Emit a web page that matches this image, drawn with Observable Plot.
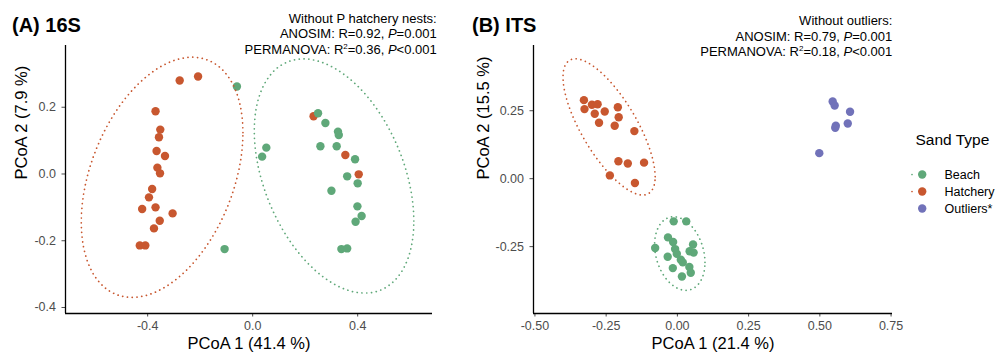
<!DOCTYPE html>
<html><head><meta charset="utf-8">
<script src="https://cdn.jsdelivr.net/npm/d3@7"></script>
<script src="https://cdn.jsdelivr.net/npm/@observablehq/plot@0.6"></script>
<style>
body{margin:0;background:#fff;font-family:"Liberation Sans",Arial,Helvetica,sans-serif;}
#wrap{position:relative;width:995px;height:355px;overflow:hidden;background:#fff;}
#wrap > div{position:absolute;}
.title{font-weight:bold;font-size:20px;line-height:20px;color:#000;white-space:nowrap;}
.note{font-size:13px;line-height:15.5px;text-align:right;color:#000;white-space:nowrap;}
.note sup{font-size:8px;line-height:0;vertical-align:5px;}
</style></head><body><div id="wrap"></div>
<script>
// ---------- data ----------
const sandTypes = ["Beach", "Hatchery", "Outliers*"];
const sandColors = ["#5FA879", "#C8572F", "#7172B9"];

// (A) 16S
const s16BeachX = [-0.060, 0.249, 0.277, 0.325, 0.328, 0.258, 0.320, 0.052, 0.036, 0.390, 0.360, 0.400, 0.300, 0.399, 0.415, 0.392, 0.338, 0.360, -0.107];
const s16BeachY = [0.262, 0.182, 0.153, 0.127, 0.117, 0.083, 0.083, 0.079, 0.052, 0.044, -0.007, -0.028, -0.050, -0.097, -0.126, -0.143, -0.225, -0.223, -0.225];
const s16HatchX = [-0.278, -0.208, -0.370, -0.352, -0.357, -0.366, -0.334, -0.363, -0.353, -0.383, -0.395, -0.421, -0.370, -0.305, -0.354, -0.376, -0.430, -0.409];
const s16HatchY = [0.280, 0.292, 0.188, 0.133, 0.110, 0.069, 0.054, 0.019, 0.002, -0.045, -0.070, -0.105, -0.100, -0.118, -0.140, -0.163, -0.214, -0.214];
// P hatchery nests
const s16HatchPX = [0.232, 0.353, 0.404];
const s16HatchPY = [0.173, 0.057, -0.001];
// 95% ellipses of (A): centre, x / y half-extents, phase cosine
const s16EllType = ["Hatchery", "Beach"];
const s16EllCx = [-0.345, 0.310];
const s16EllCy = [-0.010, -0.006];
const s16EllRx = [0.308, 0.304];
const s16EllRy = [0.360, 0.351];
const s16EllCosPhi = [0.372, -0.385];

// (B) ITS
const itsBeachX = [-0.013, 0.031, -0.033, -0.015, -0.078, -0.008, 0.055, -0.002, 0.043, 0.057, -0.034, 0.012, 0.019, 0.042, -0.016, 0.047, 0.016];
const itsBeachY = [-0.157, -0.157, -0.216, -0.233, -0.255, -0.259, -0.242, -0.276, -0.267, -0.272, -0.287, -0.298, -0.308, -0.325, -0.329, -0.346, -0.360];
const itsHatchX = [-0.328, -0.326, -0.300, -0.280, -0.290, -0.255, -0.275, -0.209, -0.206, -0.220, -0.151, -0.207, -0.174, -0.117, -0.237, -0.149];
const itsHatchY = [0.289, 0.256, 0.272, 0.274, 0.239, 0.247, 0.206, 0.263, 0.226, 0.195, 0.175, 0.064, 0.056, 0.059, 0.012, -0.016];
const itsOutX = [0.545, 0.552, 0.606, 0.556, 0.554, 0.598, 0.498];
const itsOutY = [0.284, 0.269, 0.246, 0.195, 0.187, 0.203, 0.094];

// ticks
const s16XTicks = [-0.4, 0, 0.4];
const s16YTicks = [-0.4, -0.2, 0, 0.2];
const itsXTicks = [-0.5, -0.25, 0, 0.25, 0.5, 0.75];
const itsYTicks = [-0.25, 0, 0.25];

// texts
const titleA = "(A) 16S";
const titleB = "(B) ITS";
const noteA = ["Without P hatchery nests:", "ANOSIM: R=0.92, <i>P</i>=0.001", "PERMANOVA: R<sup>2</sup>=0.36, <i>P</i>&lt;0.001"];
const noteB = ["Without outliers:", "ANOSIM: R=0.79, <i>P</i>=0.001", "PERMANOVA: R<sup>2</sup>=0.18, <i>P</i>&lt;0.001"];
const xLabelA = "PCoA 1 (41.4 %)", yLabelA = "PCoA 2 (7.9 %)";
const xLabelB = "PCoA 1 (21.4 %)", yLabelB = "PCoA 2 (15.5 %)";
const legendTitle = "Sand Type";

// ---------- helpers ----------
const FONT = '"Liberation Sans", Arial, Helvetica, sans-serif';
const toPts = (xs, ys, type) => xs.map((x, i) => ({x, y: ys[i], type}));

// ellipse from read parameters: x = cx + Rx cos t, y = cy + Ry cos(t - phi)
function paramEllipse(i, segments = 80) {
  const phi = Math.acos(s16EllCosPhi[i]);
  return d3.range(segments + 1).map(k => {
    const t = k * 2 * Math.PI / segments;
    return {x: s16EllCx[i] + s16EllRx[i] * Math.cos(t), y: s16EllCy[i] + s16EllRy[i] * Math.cos(t - phi), type: s16EllType[i]};
  });
}

// robust t covariance (MASS::cov.trob) + stat_ellipse(type="t", level=0.95)
function covTrob(pts, nu = 5, maxit = 25, tol = 0.01) {
  const n = pts.length, p = 2;
  let loc = [d3.mean(pts, d => d.x), d3.mean(pts, d => d.y)];
  let w = pts.map(() => 1), X;
  for (let it = 0; it < maxit; it++) {
    const w0 = w.slice();
    X = pts.map(d => [d.x - loc[0], d.y - loc[1]]);
    const sw = d3.sum(w);
    let a = 0, b = 0, c = 0;
    X.forEach((v, i) => { a += w[i] * v[0] * v[0]; b += w[i] * v[0] * v[1]; c += w[i] * v[1] * v[1]; });
    a /= sw; b /= sw; c /= sw;
    const det = a * c - b * b;
    const Q = X.map(v => (c * v[0] * v[0] - 2 * b * v[0] * v[1] + a * v[1] * v[1]) / det);
    w = Q.map(q => (nu + p) / (nu + q));
    const sw2 = d3.sum(w);
    loc = [d3.sum(pts, (d, i) => w[i] * d.x) / sw2, d3.sum(pts, (d, i) => w[i] * d.y) / sw2];
    if (w.every((v, i) => Math.abs(v - w0[i]) < tol)) break;
  }
  let a = 0, b = 0, c = 0;
  X.forEach((v, i) => { a += w[i] * v[0] * v[0]; b += w[i] * v[0] * v[1]; c += w[i] * v[1] * v[1]; });
  return {center: loc, cov: [a / n, b / n, c / n]};
}
function ellipse(pts, type, level = 0.95, segments = 80) {
  const {center, cov} = covTrob(pts);
  const d = pts.length - 1;
  const fq = (d / 2) * (Math.pow(1 - level, -2 / d) - 1);
  const radius = Math.sqrt(2 * fq);
  const r11 = Math.sqrt(cov[0]), r12 = cov[1] / r11, r22 = Math.sqrt(cov[2] - r12 * r12);
  return d3.range(segments + 1).map(k => {
    const t = k * 2 * Math.PI / segments, cs = Math.cos(t), sn = Math.sin(t);
    return {x: center[0] + radius * cs * r11, y: center[1] + radius * (cs * r12 + sn * r22), type};
  });
}

function panel({points, ellipses, xDomain, yDomain, xTicks, yTicks, digits, xLabel, yLabel, width, marginLeft, marginRight, yLabelDx}) {
  return Plot.plot({
    width, height: 355, marginLeft, marginRight, marginTop: 45, marginBottom: 42,
    style: {fontFamily: FONT, fontSize: "12.5px", color: "#4D4D4D", background: "transparent", overflow: "visible"},
    x: {domain: xDomain, ticks: xTicks, tickFormat: d => d.toFixed(digits), tickSize: 3.5, tickPadding: 4, label: null},
    y: {domain: yDomain, ticks: yTicks, tickFormat: d => d.toFixed(digits), tickSize: 3.5, tickPadding: 6, label: null},
    color: {domain: sandTypes, range: sandColors},
    marks: [
      Plot.ruleX([xDomain[0]], {stroke: "#000", strokeWidth: 1.3}),
      Plot.ruleY([yDomain[0]], {stroke: "#000", strokeWidth: 1.3}),
      Plot.dot(points, {x: "x", y: "y", fill: "type", r: 4.2}),
      ...ellipses.map(e => Plot.line(e, {x: "x", y: "y", stroke: "type", strokeWidth: 1.7, strokeDasharray: "0.1 4.7", strokeLinecap: "round"})),
      Plot.text([xLabel], {text: d => d, frameAnchor: "bottom", lineAnchor: "middle", dy: 30.5, fill: "#000", fontSize: 16.5}),
      Plot.text([yLabel], {text: d => d, frameAnchor: "left", lineAnchor: "middle", dx: yLabelDx, rotate: -90, fill: "#000", fontSize: 16.5})
    ]
  });
}

const wrap = document.getElementById("wrap");
function place(node, css) { const d = document.createElement("div"); Object.assign(d.style, css); d.appendChild(node); wrap.appendChild(d); return d; }
function html(str, cls, css) { const d = document.createElement("div"); d.className = cls; d.innerHTML = str; Object.assign(d.style, css); wrap.appendChild(d); }

// ---------- panel A ----------
const pointsA = [
  ...toPts(s16HatchX, s16HatchY, "Hatchery"),
  ...toPts(s16HatchPX, s16HatchPY, "Hatchery"),
  ...toPts(s16BeachX, s16BeachY, "Beach")
];
place(panel({
  points: pointsA, ellipses: [paramEllipse(0), paramEllipse(1)],
  xDomain: [-0.713, 0.685], yDomain: [-0.418, 0.385], xTicks: s16XTicks, yTicks: s16YTicks, digits: 1,
  xLabel: xLabelA, yLabel: yLabelA, width: 445, marginLeft: 65, marginRight: 13, yLabelDx: -43.5
}), {left: "0px", top: "0px"});

// ---------- panel B ----------
const itsHatch = toPts(itsHatchX, itsHatchY, "Hatchery");
const itsBeach = toPts(itsBeachX, itsBeachY, "Beach");
const pointsB = [...itsHatch, ...itsBeach, ...toPts(itsOutX, itsOutY, "Outliers*")];
place(panel({
  points: pointsB, ellipses: [ellipse(itsBeach, "Beach"), ellipse(itsHatch, "Hatchery")],
  xDomain: [-0.505, 0.755], yDomain: [-0.496, 0.49], xTicks: itsXTicks, yTicks: itsYTicks, digits: 2,
  xLabel: xLabelB, yLabel: yLabelB, width: 445, marginLeft: 73, marginRight: 13, yLabelDx: -50
}), {left: "460px", top: "0px"});

// ---------- legend ----------
place(Plot.plot({
  width: 90, height: 120, margin: 0,
  style: {fontFamily: FONT, fontSize: "12.5px", color: "#000", background: "transparent", overflow: "visible"},
  x: {domain: [0, 90], range: [0, 90], axis: null},
  y: {type: "point", domain: sandTypes, range: [44.3, 96.7], axis: null},
  color: {domain: sandTypes, range: sandColors},
  marks: [
    Plot.ruleY(sandTypes.slice(0, 2), {y: d => d, x1: 7, x2: 27, stroke: d => d, strokeWidth: 1.7, strokeDasharray: "0 10", strokeLinecap: "round"}),
    Plot.dot(sandTypes, {y: d => d, frameAnchor: "left", dx: 16.7, fill: d => d, r: 4.2}),
    Plot.text(sandTypes, {y: d => d, text: d => d, frameAnchor: "left", lineAnchor: "middle", dx: 39, textAnchor: "start", fill: "#000", fontSize: 12.5}),
    Plot.text([legendTitle], {text: d => d, frameAnchor: "top-left", lineAnchor: "middle", dx: 10, dy: 20, textAnchor: "start", fill: "#000", fontSize: 15.5})
  ]
}), {left: "905px", top: "120px"});

// ---------- titles & notes ----------
html(titleA, "title", {left: "12px", top: "14.6px"});
html(titleB, "title", {left: "472px", top: "14.6px"});
html(noteA.join("<br>"), "note", {right: "558.3px", top: "10.7px"});
html(noteB.join("<br>"), "note", {right: "102.7px", top: "13px"});
</script></body></html>
